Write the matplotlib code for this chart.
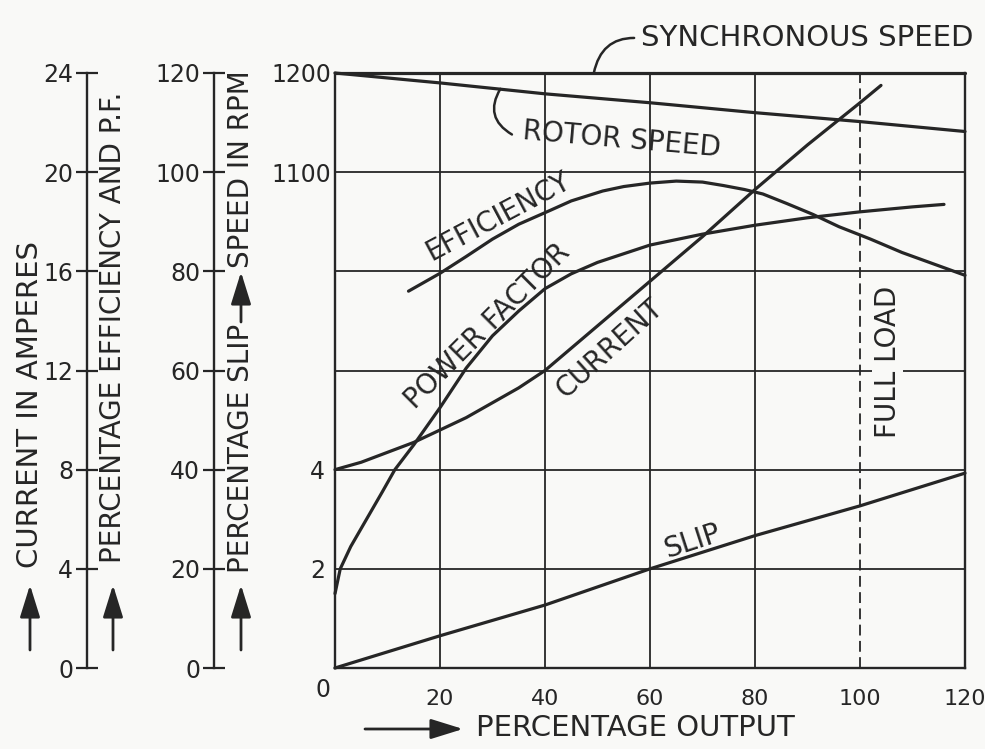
import matplotlib
matplotlib.use('Agg')
import matplotlib.pyplot as plt

# curves, x = percentage output
slip_x = [0, 20, 40, 60, 80, 100, 120]
slip_pct = [0, 0.65, 1.27, 2.0, 2.67, 3.27, 3.93]

rotor_x = [0, 20, 40, 60, 80, 100, 120]
rotor_rpm = [1200, 1190, 1179, 1170, 1160, 1151, 1141]

sync_x = [0, 120]
sync_rpm = [1200, 1200]

eff_x = [14, 20, 25, 30, 35, 41, 45, 51, 55, 60, 65, 70, 74, 78, 81.5, 86, 91, 96, 102, 108, 114, 120]
eff_pct = [76, 79.6, 83, 86.5, 89.5, 92.3, 94.2, 96.2, 97.1, 97.8, 98.2, 98, 97.3, 96.5, 95.6, 93.7,
           91.5, 89, 86.5, 83.8, 81.5, 79.2]

pf_x = [0, 1, 3, 6, 9, 11.4, 15, 20, 25, 30, 35, 40, 45, 50, 60, 70, 80, 90, 100, 110, 116]
pf_pct = [15, 20, 24.5, 30, 35.5, 40, 45, 52.5, 60.5, 67, 72, 76.5, 79.5, 81.8, 85.3, 87.5, 89.3,
          90.8, 92, 93, 93.5]

cur_x = [0, 5, 10, 15, 20, 25, 30, 35, 40, 50, 60, 70, 80, 90, 100, 104]
cur_amp = [8, 8.3, 8.7, 9.1, 9.6, 10.1, 10.7, 11.3, 12, 13.8, 15.6, 17.4, 19.3, 21.1, 22.8, 23.5]

out_ticks = [20, 40, 60, 80, 100, 120]
grid_x = [20, 40, 60, 80]
grid_slip = [2, 4, 6, 8, 10]
full_load = 100
amp_ticks = [0, 4, 8, 12, 16, 20, 24]
pct_ticks = [0, 20, 40, 60, 80, 100, 120]
rpm_ticks = [1100, 1200]
slip_ticks = [2, 4]

INK = '#262626'
BG = '#f9f9f7'
W_PX, H_PX = 985, 749

plt.rcParams['font.family'] = ['DejaVu Sans']
plt.rcParams['text.color'] = INK


def fx(px):
    return px / W_PX


def fy(py):
    return 1 - py / H_PX


fig = plt.figure(figsize=(W_PX / 100, H_PX / 100), dpi=100)
fig.patch.set_facecolor(BG)

bottom = fy(668)
height = (668 - 73) / H_PX

# main grid, y in slip units (2 % per division)
ax = fig.add_axes([fx(335), bottom, fx(965) - fx(335), height])
ax.set_facecolor('none')
ax.set_xlim(0, 120)
ax.set_ylim(0, 12)
ax.spines['top'].set_visible(False)
for s in ['left', 'bottom', 'right']:
    ax.spines[s].set_linewidth(1.7)
    ax.spines[s].set_color(INK)
ax.set_xticks(out_ticks)
ax.set_xticklabels([str(t) for t in out_ticks])
ax.set_yticks(slip_ticks)
ax.set_yticklabels([str(t) for t in slip_ticks])
ax.tick_params(axis='x', length=0, pad=15, labelsize=16, colors=INK)
ax.tick_params(axis='y', length=0, pad=7, labelsize=17, colors=INK)
ax.text(-0.8, -0.2, '0', ha='right', va='top', fontsize=17)

ax.vlines(grid_x, 0, 12, color=INK, lw=1.3)
ax.hlines(grid_slip, 0, 120, color=INK, lw=1.3)
ax.vlines(full_load, 0, 12, color=INK, lw=1.3, linestyles=(0, (6, 3)))

# twin scales sharing the same box
ax_cur = ax.twinx()
ax_pct = ax.twinx()
ax_rpm = ax.twinx()
ax_cur.set_ylim(0, 24)
ax_pct.set_ylim(0, 120)
ax_rpm.set_ylim(600, 1200)
for a in [ax_cur, ax_pct, ax_rpm]:
    for s in a.spines.values():
        s.set_visible(False)
    a.set_yticks([])
ax_rpm.yaxis.set_ticks_position('left')
ax_rpm.set_yticks(rpm_ticks)
ax_rpm.set_yticklabels([str(t) for t in rpm_ticks])
ax_rpm.tick_params(axis='y', length=0, pad=3, labelsize=17, colors=INK)

lw = 2.3
kw = dict(color=INK, lw=lw, clip_on=False, solid_capstyle='round')
ax.plot(slip_x, slip_pct, **kw)
ax_rpm.plot(sync_x, sync_rpm, **kw)
ax_rpm.plot(rotor_x, rotor_rpm, **kw)
ax_pct.plot(eff_x, eff_pct, **kw)
ax_pct.plot(pf_x, pf_pct, **kw)
ax_cur.plot(cur_x, cur_amp, **kw)

# curve names
tk = dict(ha='center', va='center', rotation_mode='anchor', fontsize=20)
ax_pct.text(31.0, 91.0, 'EFFICIENCY', rotation=28, **tk)
ax_pct.text(29.0, 69.0, 'POWER FACTOR', rotation=45, **tk)
ax_pct.text(52.3, 64.5, 'CURRENT', rotation=42, **tk)
ax_pct.text(68.0, 25.5, 'SLIP', rotation=18, **tk)
ax_pct.text(105.3, 61.7, 'FULL LOAD', rotation=90,
            bbox=dict(fc=BG, ec='none', pad=1), **tk)
ax_rpm.text(54.7, 1133, 'ROTOR SPEED', rotation=-5, **tk)
ax_rpm.annotate('SYNCHRONOUS SPEED', xy=(49.3, 1200), xytext=(58.3, 1235),
                ha='left', va='center', fontsize=21, annotation_clip=False,
                arrowprops=dict(arrowstyle='-', color=INK, lw=1.8, relpos=(0, 0.5),
                                connectionstyle='arc3,rad=0.45', shrinkA=3, shrinkB=0))
ax_rpm.annotate('', xy=(31.5, 1184), xytext=(33.7, 1138), annotation_clip=False,
                arrowprops=dict(arrowstyle='-', color=INK, lw=1.8,
                                connectionstyle='arc3,rad=-0.5', shrinkA=0, shrinkB=0))

# the two separate scales on the left
for xpos, lim, ticks in [(87, 24, amp_ticks), (214, 120, pct_ticks)]:
    a = fig.add_axes([fx(xpos), bottom, 0.0001, height])
    a.patch.set_visible(False)
    a.set_ylim(0, lim)
    for s in ['top', 'right', 'bottom']:
        a.spines[s].set_visible(False)
    a.spines['left'].set_linewidth(1.7)
    a.spines['left'].set_color(INK)
    a.set_xticks([])
    a.set_yticks(ticks)
    a.set_yticklabels([str(t) for t in ticks])
    a.tick_params(axis='y', direction='inout', length=16, width=1.6, pad=2,
                  labelsize=17, colors=INK)

# axis titles
fig.text(fx(30), fy(405), 'CURRENT IN AMPERES', rotation=90, ha='center', va='center', fontsize=21)
fig.text(fx(113), fy(327), 'PERCENTAGE EFFICIENCY AND P.F.', rotation=90, ha='center',
         va='center', fontsize=20)
fig.text(fx(241), fy(448), 'PERCENTAGE SLIP', rotation=90, ha='center', va='center', fontsize=20)
fig.text(fx(241), fy(169), 'SPEED IN RPM', rotation=90, ha='center', va='center', fontsize=20)
fig.text(fx(635), fy(728), 'PERCENTAGE OUTPUT', ha='center', va='center', fontsize=21)

arrow = dict(arrowstyle='-|>,head_length=0.9,head_width=0.28', color=INK, lw=2,
             mutation_scale=22, shrinkA=0, shrinkB=0)
for x0, y0, x1, y1 in [(30, 650, 30, 585), (113, 650, 113, 585), (241, 650, 241, 585),
                       (241, 322, 241, 272), (365, 729, 463, 729)]:
    ax.annotate('', xy=(fx(x1), fy(y1)), xytext=(fx(x0), fy(y0)), xycoords='figure fraction',
                textcoords='figure fraction', arrowprops=arrow, annotation_clip=False)

fig.savefig('out.png', dpi=100, facecolor=BG)
